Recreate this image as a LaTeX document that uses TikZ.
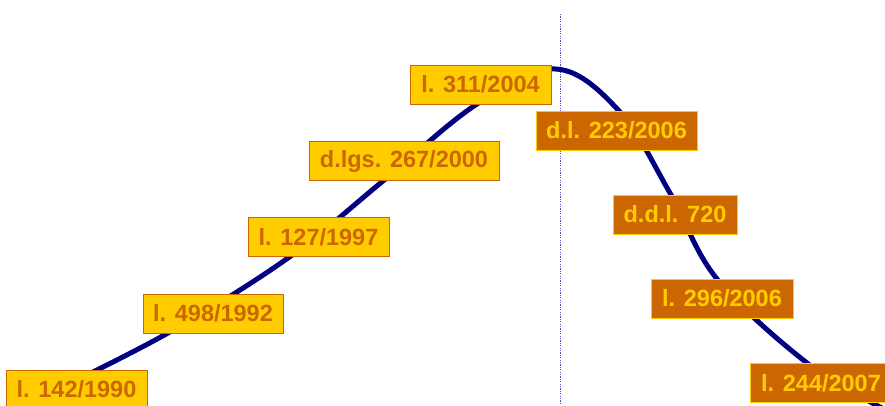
\documentclass[tikz,border=0pt]{standalone}
\usepackage{fontspec}
\setmainfont{Liberation Sans}
\definecolor{boxyellow}{HTML}{FFCC00}
\definecolor{boxorange}{HTML}{CC6600}
\definecolor{curvenavy}{HTML}{000080}
\definecolor{dotblue}{HTML}{5050B0}
\tikzset{
  lawbox/.style={draw=boxorange, fill=boxyellow, text=boxorange, line width=0.9pt,
    font=\fontsize{23.5}{23.5}\selectfont\bfseries, minimum height=39pt, inner xsep=0pt, inner ysep=0pt},
  decbox/.style={draw=boxyellow, fill=boxorange, text=boxyellow, line width=0.9pt,
    font=\fontsize{23.5}{23.5}\selectfont\bfseries, minimum height=39pt, inner xsep=0pt, inner ysep=0pt},
  trend/.style={draw=curvenavy, line width=5pt},
  divider/.style={draw=dotblue, line width=0.9pt, dash pattern=on 1.2pt off 1.2pt}
}
\begin{document}
\begin{tikzpicture}[x=1pt,y=-1pt]
\useasboundingbox (0,0) rectangle (885,405);
\coordinate (dtop) at (560,14);
\coordinate (dbot) at (560,405);
\draw[divider] (dtop) -- (dbot);
\draw[trend] plot[smooth, tension=0.6] coordinates {
  (40,398) (168,333) (288,258) (383,181) (477,104) (556,69)
  (620,112) (670,193) (717,279) (807,363) (882,408)};
\node[lawbox, minimum width=141pt] (n1990) at (76.5,389.5) {l. 142/1990};
\node[lawbox, minimum width=140pt] (n1992) at (213,313.5) {l. 498/1992};
\node[lawbox, minimum width=141pt] (n1997) at (318.5,237) {l. 127/1997};
\node[lawbox, minimum width=190pt] (n2000) at (404,161) {d.lgs. 267/2000};
\node[lawbox, minimum width=141pt] (n2004) at (480.5,84.5) {l. 311/2004};
\node[decbox, minimum width=161pt] (n2006a) at (616.5,130.5) {d.l. 223/2006};
\node[decbox, minimum width=124pt] (n720) at (675,214.5) {d.d.l. 720};
\node[decbox, minimum width=142pt] (n2006b) at (722,298.5) {l. 296/2006};
\node[decbox, minimum width=142pt] (n2007) at (821,383) {l. 244/2007};
\end{tikzpicture}
\end{document}
